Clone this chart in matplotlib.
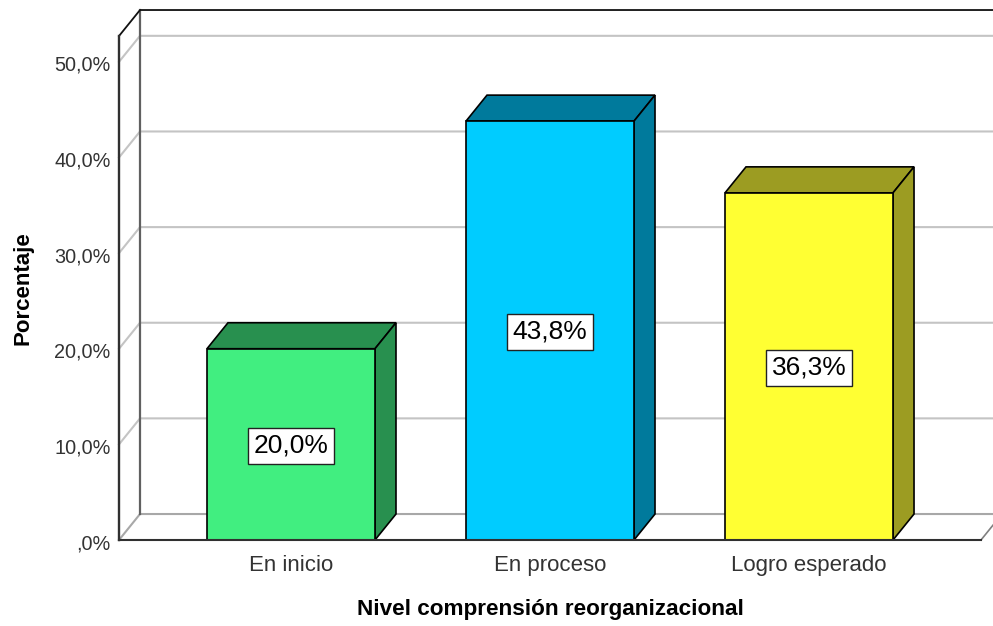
import matplotlib.pyplot as plt
from matplotlib.patches import Polygon
from matplotlib.transforms import ScaledTranslation

plt.rcParams['font.family'] = ['Liberation Sans', 'DejaVu Sans']

categories = ['En inicio', 'En proceso', 'Logro esperado']
values = [20.0, 43.8, 36.3]
value_labels = ['20,0%', '43,8%', '36,3%']
y_ticks = [0, 10, 20, 30, 40, 50]
y_tick_labels = [',0%', '10,0%', '20,0%', '30,0%', '40,0%', '50,0%']
front_colors = ['#41ee80', '#00ccff', '#ffff33']
shade_colors = ['#28904f', '#007a9c', '#9c9c22']

W, H = 993, 626

fig = plt.figure(figsize=(W / 100, H / 100), dpi=100)
# the axes is the front plane of the 3D box
ax = fig.add_axes([119 / W, (H - 540) / H, (981 - 119) / W, (540 - 36) / H])
xmin, xmax = -0.664, 2.664
ymin, ymax = 0, 52.7
ax.set_xlim(xmin, xmax)
ax.set_ylim(ymin, ymax)
for side in ax.spines.values():
    side.set_visible(False)

# depth of the box, in data units
dx = 21 / 259
dy = 26 / 9.57
bar_width = 168 / 259

# walls and gridlines
grid_col = '#c4c4c4'
for t in y_ticks[1:]:
    ax.plot([xmin, xmin + dx, xmax + dx], [t, t + dy, t + dy], color=grid_col, lw=1.5, clip_on=False, zorder=1)
ax.plot([xmin, xmin + dx, xmax + dx], [0, dy, dy], color='#a8a8a8', lw=1.5, clip_on=False, zorder=1)
ax.plot([xmax, xmax + dx], [0, dy], color='#808080', lw=1.2, clip_on=False, zorder=1)
ax.plot([xmin + dx, xmin + dx], [dy, ymax + dy], color='#606060', lw=1.6, clip_on=False, zorder=2)
ax.plot([xmin, xmin + dx, xmax + dx], [ymax, ymax + dy, ymax + dy], color='#111111', lw=1.3, clip_on=False, zorder=2)
ax.plot([xmin, xmin], [0, ymax], color='#303030', lw=1.7, clip_on=False, zorder=2)
ax.plot([xmin, xmax], [0, 0], color='#303030', lw=1.5, clip_on=False, zorder=6)

# bars
for i, v in enumerate(values):
    left = i - bar_width / 2
    right = i + bar_width / 2
    top = Polygon([(left, v), (left + dx, v + dy), (right + dx, v + dy), (right, v)],
                  facecolor=shade_colors[i], edgecolor='black', lw=1.2, zorder=3)
    side = Polygon([(right, 0), (right + dx, dy), (right + dx, v + dy), (right, v)],
                   facecolor=shade_colors[i], edgecolor='black', lw=1.2, zorder=3)
    ax.add_patch(top)
    ax.add_patch(side)
ax.bar(range(len(values)), values, width=bar_width, color=front_colors, edgecolor='black', linewidth=1.2, zorder=4)

for i, v in enumerate(values):
    ax.text(i, v / 2 - 0.15, value_labels[i], ha='center', va='center', fontsize=19, color='black', zorder=7,
            bbox=dict(facecolor='white', edgecolor='#222222', linewidth=1, boxstyle='square,pad=0.22'))

ax.set_xticks(range(len(categories)))
ax.set_xticklabels(categories, fontsize=16, color='#333333')
ax.set_yticks(y_ticks)
ax.set_yticklabels(y_tick_labels, fontsize=14.3, color='#333333')
ax.tick_params(axis='both', length=0)
ax.tick_params(axis='x', pad=10.5)
ax.tick_params(axis='y', pad=6)

# y tick labels sit a little under their gridline
down = ScaledTranslation(0, -1.5 / 100, fig.dpi_scale_trans)
for lab in ax.get_yticklabels():
    lab.set_transform(lab.get_transform() + down)

ax.set_xlabel('Nivel comprensión reorganizacional', fontsize=16.2, fontweight='bold', labelpad=17)
ax.set_ylabel('Porcentaje', fontsize=16, fontweight='bold', labelpad=15)

plt.savefig('out.png', dpi=100)
